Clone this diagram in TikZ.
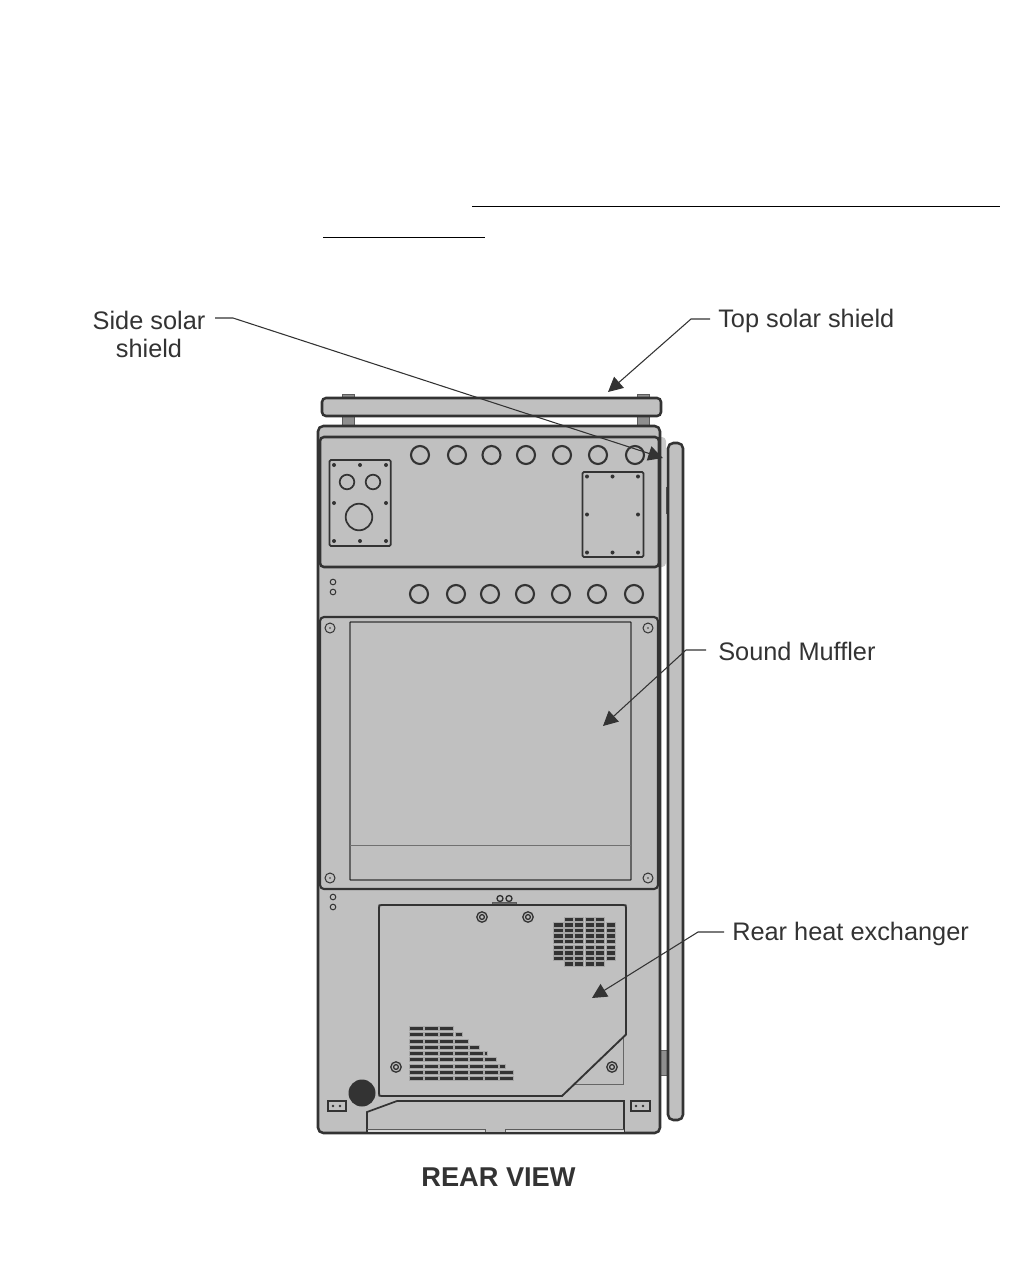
\documentclass[tikz,border=0pt]{standalone}
\usepackage{fontspec}
\setmainfont{Liberation Sans}
\usetikzlibrary{arrows.meta}
\definecolor{fillgrey}{HTML}{C0C0C0}
\definecolor{shadegrey}{HTML}{C8C8C8}
\definecolor{ink}{HTML}{333333}
\definecolor{postgrey}{HTML}{8F8F8F}
\tikzset{
  part/.style={draw=ink,fill=fillgrey,line width=1.9pt,rounded corners=3pt},
  plate/.style={draw=ink,fill=fillgrey,line width=1.3pt,rounded corners=1pt},
  port/.style={draw=ink,fill=fillgrey,line width=1.6pt},
  tinyring/.style={draw=ink,fill=fillgrey,line width=.75pt},
  post/.style={draw=ink!80,fill=postgrey,line width=.6pt},
  slot/.style={fill=ink,draw=black!35,line width=.3pt},
  leader/.style={draw=ink,line width=.8pt,-{Triangle[length=11pt,width=11pt]}},
  label/.style={inner sep=0pt,font=\fontsize{19}{21}\selectfont,text=ink},
}
\newcommand{\screwdot}[2]{\fill[ink] (#1,#2) circle[radius=2];}
\newcommand{\panelscrew}[2]{\draw[tinyring,line width=1pt] (#1,#2) circle[radius=5.2]; \draw[tinyring,line width=1pt] (#1,#2) circle[radius=2.4];}
\newcommand{\capscrew}[2]{\draw[tinyring] (#1,#2) circle[radius=5]; \fill[ink] (#1,#2) circle[radius=.8];}
\begin{document}
\begin{tikzpicture}[x=.75pt,y=-.75pt]
\useasboundingbox (0,0) rectangle (1008,1272);
% stray rules
\coordinate (ruleAa) at (472,206); \coordinate (ruleAb) at (1000,206);
\coordinate (ruleBa) at (323,237); \coordinate (ruleBb) at (485,237);
\draw[black,line width=.6pt] (ruleAa) -- (ruleAb);
\draw[black,line width=.6pt] (ruleBa) -- (ruleBb);
% posts and top shield
\draw[post] (342,394) rectangle (354,427);
\draw[post] (637,394) rectangle (649,427);
\draw[part] (322,398) rectangle (661,416);
% side shield and tabs
\fill[shadegrey,rounded corners=3pt] (650,437) rectangle (666,567);
\draw[post] (666,487) rectangle (668,513);
\draw[post] (658,1050) rectangle (669,1075);
\draw[part,rounded corners=4pt] (668,443) rectangle (683,1120);
% main body
\draw[part,rounded corners=4pt] (318,426) rectangle (660,1133);
% upper panel
\draw[part] (320,437) rectangle (659,567);
\foreach \x in {420,457,491.5,526,562,598,635} \draw[port] (\x,455) circle[radius=9];
\foreach \x in {419,456,490,525,561,597,634} \draw[port] (\x,594) circle[radius=9];
% left plate
\draw[plate] (329.5,460) rectangle (390.7,546);
\foreach \x in {334,360,386} {\screwdot{\x}{465}\screwdot{\x}{541}}
\screwdot{334}{503}\screwdot{386}{503}
\draw[port,line width=1.3pt] (347,482) circle[radius=7.3];
\draw[port,line width=1.3pt] (373,482) circle[radius=7.3];
\draw[port,line width=1.3pt] (359,517) circle[radius=13.3];
% right plate
\draw[plate] (582.5,472) rectangle (643.5,557);
\foreach \x in {587,612.5,638} {\screwdot{\x}{476.5}\screwdot{\x}{552.5}}
\screwdot{587}{514.5}\screwdot{638}{514.5}
% small holes
\foreach \y in {582,592,897,907} \draw[tinyring] (333,\y) circle[radius=2.8];
% muffler
\draw[part,line width=1.6pt] (320,617) rectangle (658,889);
\draw[plate,line width=1.1pt,rounded corners=.5pt] (350,622) rectangle (631,880);
\draw[ink!70,line width=.4pt] (350,845) -- (631,845);
\capscrew{330}{628}\capscrew{648}{628}\capscrew{330}{878}\capscrew{648}{878}
% latch
\draw[tinyring,line width=1pt] (500,898.5) circle[radius=3];
\draw[tinyring,line width=1pt] (509,898.5) circle[radius=3];
\draw[post,fill=ink!70] (492.5,902) rectangle (516,905);
% triangle behind panel
\draw[ink!75,line width=.7pt] (623.5,1034) -- (623.5,1084) -- (570,1084);
\panelscrew{612}{1067}
% access panel
\draw[draw=ink,fill=fillgrey,line width=1.4pt,line join=miter] (626,1034.5) -- (562,1096) -- (382,1096) .. controls (379,1096) .. (379,1093) -- (379,908) .. controls (379,905) .. (382,905) -- (623,905) .. controls (626,905) .. (626,908) -- cycle;
\panelscrew{482}{917}\panelscrew{528}{917}\panelscrew{396}{1067}
% upper right vents
\foreach \y in {0,...,8} {
  \pgfmathsetmacro{\yy}{919+5.6*\y}
  \foreach \a/\b in {564/573,574.3/583.3,584.7/593.7,595/604}
    \draw[slot] (\a,\yy-2.2) rectangle (\b,\yy+2.2);
}
\foreach \y in {1,...,7} {
  \pgfmathsetmacro{\yy}{919+5.6*\y}
  \foreach \a/\b in {553.3/562.7,605.7/614.7}
    \draw[slot] (\a,\yy-2.2) rectangle (\b,\yy+2.2);
}
% lower left vents
\foreach \r/\ends in {0/{423.3,438.3,453.3},
 1/{423.3,438.3,453.3},
 2/{423.3,438.3,453.3,468.3},
 3/{423.3,438.3,453.3,468.3},
 4/{423.3,438.3,453.3,468.3,482.7},
 5/{423.3,438.3,453.3,468.3,482.7,495.7},
 6/{423.3,438.3,453.3,468.3,482.7,497.7},
 7/{423.3,438.3,453.3,468.3,482.7,497.7,512.7},
 8/{423.3,438.3,453.3,468.3,482.7,497.7,512.7}} {
  \pgfmathsetmacro{\yy}{1028.3+6.25*\r}
  \foreach \b [remember=\b as \prev (initially 408)] in \ends {
    \pgfmathsetmacro{\a}{\prev+1.3}
    \draw[slot] (\a,\yy-2.1) rectangle (\b,\yy+2.1);
  }
}
\draw[slot] (454.7,1034.55-2.1) rectangle (461.7,1034.55+2.1);
\draw[slot] (469.3,1047.05-2.1) rectangle (478.7,1047.05+2.1);
\draw[slot] (484,1053.3-2.1) rectangle (487,1053.3+2.1);
\draw[slot] (499,1065.8-2.1) rectangle (505,1065.8+2.1);
% black plug
\fill[ink] (362,1093) circle[radius=13.5];
% connectors
\draw[plate,line width=.9pt,rounded corners=0pt] (328,1101) rectangle (346,1111);
\draw[plate,line width=.9pt,rounded corners=0pt] (631,1101) rectangle (650,1111);
\foreach \x in {333,340,636,643} \fill[ink] (\x,1106) circle[radius=1.3];
% bottom piece
\draw[draw=ink,fill=fillgrey,line width=1.3pt] (367,1133) -- (367,1112) -- (397,1101) -- (624,1101) -- (624,1133);
\fill[black!15] (367.5,1129) rectangle (485,1132);
\fill[black!15] (505,1129) rectangle (623.5,1132);
\draw[ink!80,line width=.5pt] (367,1129) -- (485,1129) -- (485,1133);
\draw[ink!80,line width=.5pt] (624,1129) -- (505,1129) -- (505,1133);
\draw[ink,line width=1.9pt] (360,1133) -- (640,1133);
% labels
\node[label,align=center] (side) at (149,334) {Side solar\\shield};
\node[label,anchor=west] (top) at (718,320.5) {Top solar shield};
\node[label,anchor=west] (muffler) at (718,651.5) {Sound Muffler};
\node[label,anchor=west] (rear) at (732,933.5) {Rear heat exchanger};
\node[inner sep=0pt,font=\fontsize{20.4}{24}\bfseries\selectfont,text=ink] (title) at (498.5,1177) {REAR VIEW};
% leaders
\coordinate (sideknee) at (233,318); \coordinate (sidetip) at (663,458);
\coordinate (sidestart) at (215,318);
\coordinate (topknee) at (691,319); \coordinate (toptip) at (608,392);
\coordinate (topstart) at (710,319);
\coordinate (mufknee) at (686,650); \coordinate (muftip) at (603,726);
\coordinate (mufstart) at (706,650);
\coordinate (rearknee) at (698,932); \coordinate (reartip) at (592,998);
\coordinate (rearstart) at (724,932);
\draw[leader] (sidestart) -- (sideknee) -- (sidetip);
\draw[leader] (topstart) -- (topknee) -- (toptip);
\draw[leader] (mufstart) -- (mufknee) -- (muftip);
\draw[leader] (rearstart) -- (rearknee) -- (reartip);
\end{tikzpicture}
\end{document}
